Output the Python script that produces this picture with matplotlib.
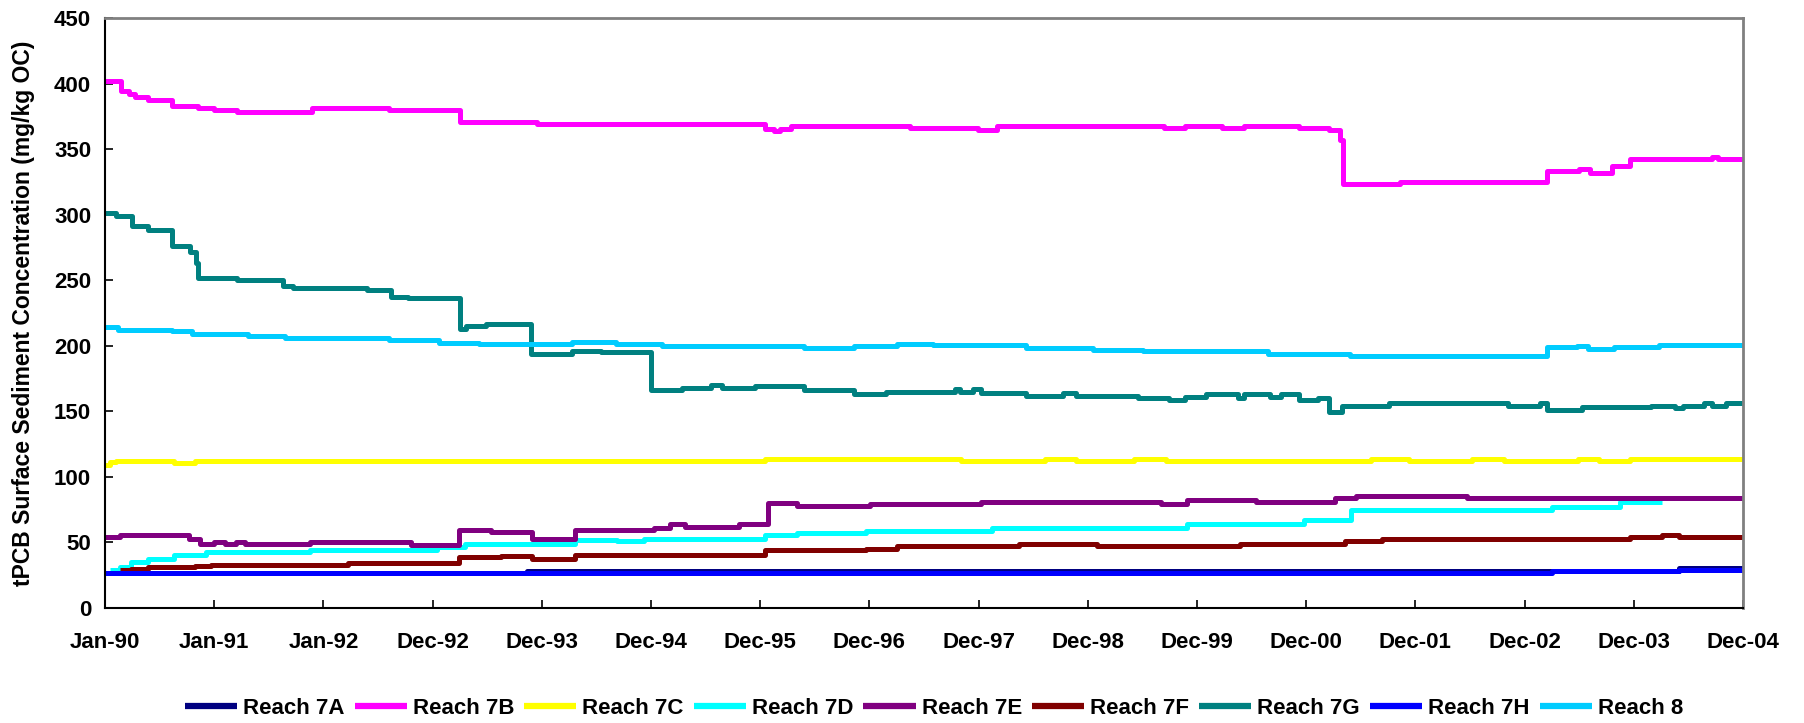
import matplotlib
matplotlib.use("Agg")
import matplotlib.pyplot as plt
import numpy as np

plt.rcParams['font.family'] = ['Liberation Sans', 'DejaVu Sans']
plt.rcParams['font.weight'] = 'bold'

# ---- data (decimal year of each step, concentration after the step) ----
tick_labels = ["Jan-90", "Jan-91", "Jan-92", "Dec-92", "Dec-93", "Dec-94", "Dec-95",
               "Dec-96", "Dec-97", "Dec-98", "Dec-99", "Dec-00", "Dec-01", "Dec-02",
               "Dec-03", "Dec-04"]
series_names = ["Reach 7A", "Reach 7B", "Reach 7C", "Reach 7D", "Reach 7E",
                "Reach 7F", "Reach 7G", "Reach 7H", "Reach 8"]
series_colors = ["#000080", "#FF00FF", "#FFFF00", "#00FFFF", "#800080",
                 "#800000", "#008080", "#0000FF", "#00CCFF"]
end_year = 2004.99

r7a_t = [1990.00, 1993.86, 2004.40]
r7a_v = [26.5, 28.5, 30.3]

r7b_t = [1990.00, 1990.15, 1990.22, 1990.27, 1990.39, 1990.61, 1990.85, 1991.00,
         1991.21, 1991.89, 1992.60, 1993.25, 1993.95, 1996.04, 1996.12, 1996.18,
         1996.28, 1997.37, 1997.99, 1998.16, 1999.69, 1999.88, 2000.22, 2000.42,
         2000.93, 2001.20, 2001.30, 2001.33, 2001.85, 2003.20, 2003.49, 2003.59,
         2003.79, 2003.96, 2004.71, 2004.76]
r7b_v = [402, 394, 392, 389.5, 387.5, 383, 381.4, 380,
         378, 381.4, 380, 371, 369, 365.3, 363.5, 365.3,
         367.3, 365.8, 364.5, 367.9, 365.8, 367.9, 365.8, 367.9,
         365.8, 364.5, 357, 323.2, 325, 333.4, 334.7, 332.1,
         337.2, 342.3, 344, 342.3]

r7c_t = [1990.00, 1990.05, 1990.10, 1990.63, 1990.82, 1996.04, 1997.83, 1998.60,
         1998.89, 1999.42, 1999.71, 2001.59, 2001.93, 2002.51, 2002.80, 2003.48,
         2003.67, 2003.96]
r7c_v = [109, 111, 112.3, 110.5, 112.3, 113.8, 112.3, 113.8,
         112.3, 113.8, 112.3, 113.8, 112.3, 113.8, 112.3, 113.8,
         112.3, 113.8]

r7d_t = [1990.05, 1990.14, 1990.24, 1990.39, 1990.63, 1990.92, 1991.88, 1993.04,
         1993.29, 1993.91, 1994.30, 1994.69, 1994.93, 1996.04, 1996.33, 1996.96,
         1998.12, 1999.90, 2000.97, 2001.40, 2003.24, 2003.86, 2004.25]
r7d_v = [29, 31.4, 35, 37.7, 40.7, 42.7, 44.5, 46.5,
         49, 48.5, 52, 51, 52.8, 55.3, 57.3, 59,
         61, 64, 67.3, 74.6, 77.4, 81, 81]

r7e_t = [1990.00, 1990.14, 1990.77, 1990.87, 1991.00, 1991.10, 1991.20, 1991.28,
         1991.88, 1992.80, 1993.24, 1993.53, 1993.91, 1994.30, 1995.02, 1995.17,
         1995.31, 1995.80, 1996.07, 1996.33, 1997.00, 1998.02, 1999.66, 1999.90,
         2000.53, 2001.26, 2001.45, 2002.46]
r7e_v = [54.5, 55.8, 52.8, 48.5, 50.3, 48.5, 50.3, 48.5,
         50.3, 47.7, 59.5, 57.8, 52.8, 59.5, 60.8, 64,
         62, 64, 80, 78, 79, 81, 79, 82.7,
         81, 83.7, 85.7, 84]

r7f_t = [1990.14, 1990.24, 1990.39, 1990.82, 1990.97, 1992.22, 1993.24, 1993.62,
         1993.91, 1994.30, 1996.04, 1996.96, 1997.25, 1998.36, 1999.08, 1999.52,
         2000.39, 2001.35, 2001.69, 2003.96, 2004.25, 2004.40]
r7f_v = [29, 30, 31.4, 32, 33, 34.4, 39, 39.4,
         37, 40.2, 44, 45.2, 47.2, 48.5, 47.5, 47,
         48.5, 51, 52.8, 54.5, 56, 54.5]

r7g_t = [1990.00, 1990.10, 1990.25, 1990.39, 1990.61, 1990.78, 1990.83, 1990.85,
         1991.21, 1991.36, 1991.63, 1991.72, 1992.40, 1992.62, 1992.77, 1993.25,
         1993.30, 1993.49, 1993.90, 1994.27, 1994.54, 1995.00, 1995.28, 1995.55,
         1995.65, 1995.95, 1996.40, 1996.85, 1997.15, 1997.78, 1997.82, 1997.94,
         1998.02, 1998.43, 1998.77, 1998.89, 1999.45, 1999.74, 1999.88, 2000.08,
         2000.37, 2000.42, 2000.66, 2000.76, 2000.93, 2001.10, 2001.20, 2001.32,
         2001.75, 2002.84, 2003.13, 2003.20, 2003.52, 2004.15, 2004.37, 2004.44,
         2004.63, 2004.71, 2004.83]
r7g_v = [301, 299, 291.3, 288, 276, 271.4, 263, 251.8,
         250, 250.5, 245.4, 244, 242.3, 237.2, 236.2, 212.8,
         215.3, 216.8, 193.9, 195.7, 195, 166.3, 168, 170,
         167.6, 169.4, 166.3, 163.3, 165, 166.8, 165, 166.8,
         163.8, 161.7, 163.8, 161.7, 159.9, 158.7, 160.7, 163,
         160, 163, 160.7, 163, 158.7, 160, 149.7, 153.7,
         156.1, 153.7, 156.1, 151, 153.1, 154.1, 152.5, 154.1,
         156.1, 153.7, 156.1]

r7h_t = [1990.00, 2003.24, 2004.40]
r7h_v = [26.5, 28.3, 29.3]

r8_t = [1990.00, 1990.12, 1990.61, 1990.80, 1991.31, 1991.65, 1992.60, 1993.06,
        1993.42, 1994.27, 1994.68, 1995.10, 1996.40, 1996.85, 1997.25, 1997.58,
        1997.68, 1998.43, 1999.04, 1999.50, 2000.64, 2001.39, 2003.20, 2003.47,
        2003.57, 2003.81, 2004.22]
r8_v = [214, 212.2, 211, 209.2, 207.1, 205.9, 204.1, 202.5,
        201.3, 203, 201.6, 200, 198.2, 200, 201.6, 200.8,
        200.3, 198.5, 197, 195.7, 193.9, 192.3, 199, 200,
        197.5, 199, 200.3]

series_t = [r7a_t, r7b_t, r7c_t, r7d_t, r7e_t, r7f_t, r7g_t, r7h_t, r8_t]
series_v = [r7a_v, r7b_v, r7c_v, r7d_v, r7e_v, r7f_v, r7g_v, r7h_v, r8_v]


def to_days(years):
    return (np.asarray(years, dtype=float) - 1990.0) * 365.25


fig = plt.figure(figsize=(18.04, 7.23), dpi=100)
ax = fig.add_axes([105 / 1804, 115 / 723, 1638 / 1804, 590 / 723])

for name, col, t, v in zip(series_names, series_colors, series_t, series_v):
    t = list(t)
    v = list(v)
    if name != "Reach 7D":
        t = t + [end_year]
        v = v + [v[-1]]
    ax.step(to_days(t), v, where='post', color=col, lw=3.6, label=name,
            solid_joinstyle='round', solid_capstyle='butt')

ax.set_xlim(0, 15 * 365)
ax.set_ylim(0, 450)
ax.set_xticks([k * 365 for k in range(len(tick_labels))])
ax.set_xticklabels(tick_labels)
ax.set_yticks(np.arange(0, 451, 50))

ax.tick_params(axis='both', direction='in', length=6, width=1.2, labelsize=16,
               colors='black')
ax.tick_params(axis='x', pad=17)
ax.tick_params(axis='y', pad=10)
for lab in ax.get_xticklabels() + ax.get_yticklabels():
    lab.set_fontweight('bold')

ax.spines['left'].set_color('black')
ax.spines['bottom'].set_color('black')
ax.spines['left'].set_linewidth(1.5)
ax.spines['bottom'].set_linewidth(1.5)
ax.spines['top'].set_color('#808080')
ax.spines['right'].set_color('#808080')
ax.spines['top'].set_linewidth(2)
ax.spines['right'].set_linewidth(2)

ax.set_ylabel("tPCB Surface Sediment Concentration (mg/kg OC)", fontsize=16.5,
              fontweight='bold')
ax.yaxis.set_label_coords(-0.043, 0.5)

leg = fig.legend(loc='center', bbox_to_anchor=(934 / 1804, 15 / 723), ncol=9,
                 frameon=False, handlelength=2.35, handletextpad=0.27,
                 columnspacing=0.45, prop={'weight': 'bold', 'size': 16})
for line in leg.get_lines():
    line.set_linewidth(4.5)

fig.savefig("out.png", dpi=100, facecolor='white')
